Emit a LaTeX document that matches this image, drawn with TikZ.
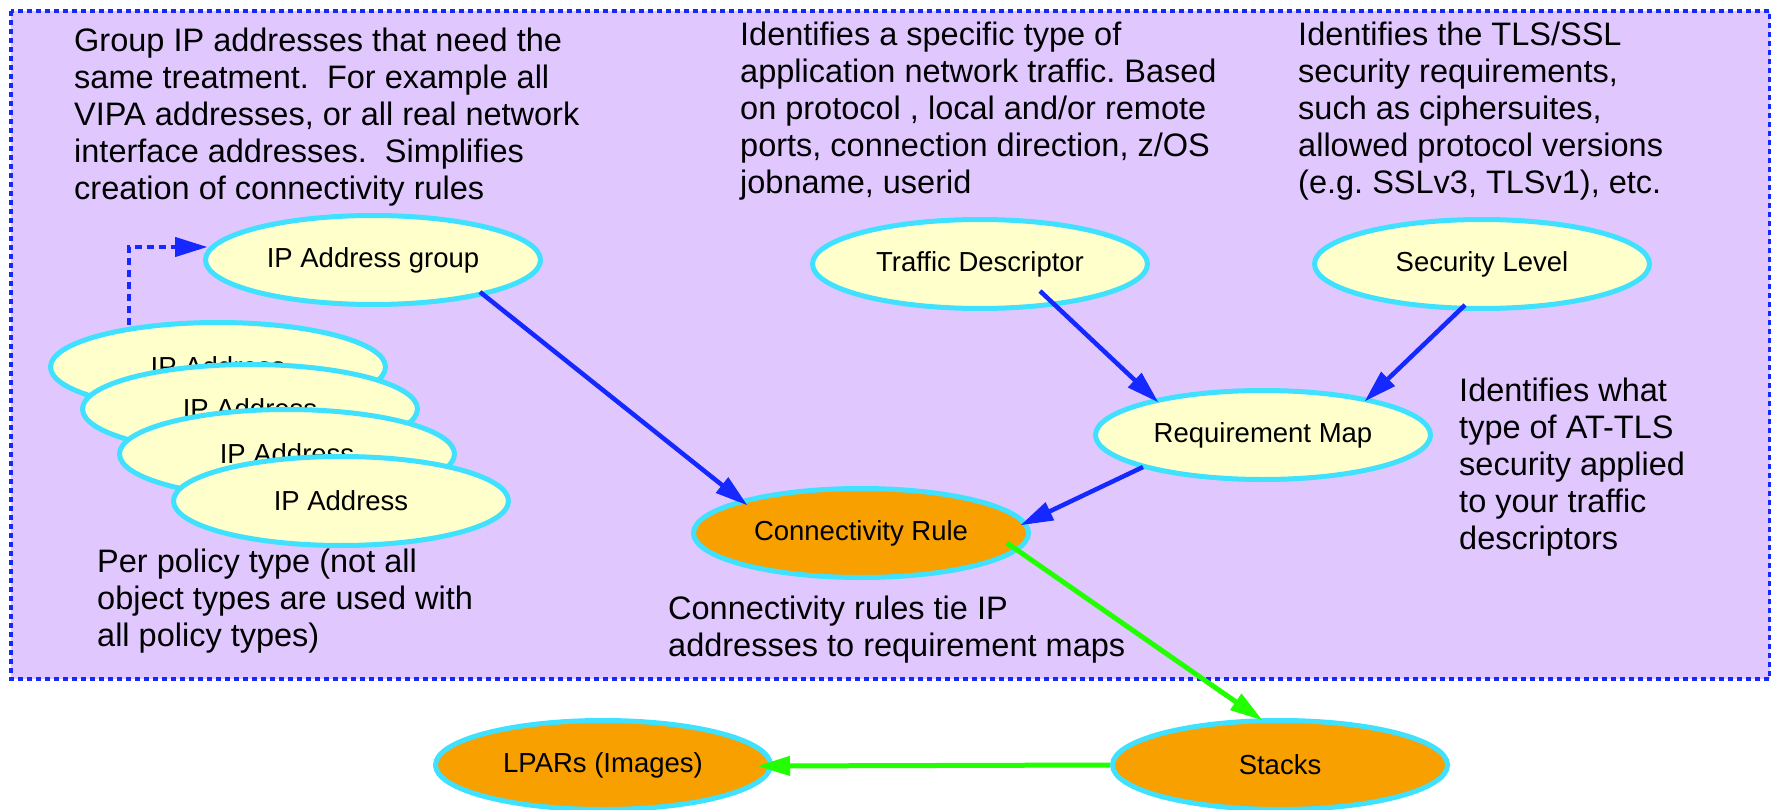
\documentclass[tikz,border=0pt]{standalone}
\usepackage{fontspec}
\setmainfont{Liberation Sans}
\usetikzlibrary{shapes.geometric,arrows.meta,calc}
\definecolor{lav}{RGB}{224,200,255}
\definecolor{pale}{RGB}{255,255,204}
\definecolor{cyanb}{RGB}{64,224,255}
\definecolor{orng}{RGB}{247,160,0}
\definecolor{blu}{RGB}{20,40,255}
\definecolor{grn}{RGB}{34,255,0}
\frenchspacing
\begin{document}
\begin{tikzpicture}[x=1pt,y=-1pt,
 obj/.style={ellipse, draw=cyanb, line width=5pt, fill=pale, minimum width=335pt, minimum height=89pt, inner sep=0pt, font=\fontsize{27.5}{32}\selectfont},
 inst/.style={obj, fill=orng},
 note/.style={anchor=north west, align=left, inner sep=0pt, font=\fontsize{32.5}{37}\selectfont},
 tipb/.style={-{Triangle[length=32pt,width=20pt,line width=1pt]}},
 barrow/.style={draw=blu, line width=4.5pt, tipb},
 garrow/.style={draw=grn, line width=5pt, tipb},
 framebox/.style={draw=blu, fill=lav, line width=4pt, dash pattern=on 5pt off 4pt},
]
\useasboundingbox (0,0) rectangle (1771,810);
\fill[white] (0,0) rectangle (1771,810);
\draw[framebox] (11,11) rectangle (1770,679);

\node[note] (t1) at (74,28) {Group IP addresses that need the\\same treatment.\ \ For example all\\VIPA addresses, or all real network\\interface addresses.\ \ Simplifies\\creation of connectivity rules};
\node[note] (t2) at (740,22) {Identifies a specific type of\\application network traffic. Based\\on protocol , local and/or remote\\ports, connection direction, z/OS\\jobname, userid};
\node[note] (t3) at (1298,22) {Identifies the TLS/SSL\\security requirements,\\such as ciphersuites,\\allowed protocol versions\\(e.g. SSLv3, TLSv1), etc.};
\node[note] (t4) at (1459,378) {Identifies what\\type of AT-TLS\\security applied\\to your traffic\\descriptors};
\node[note] (t5) at (97,549) {Per policy type (not all\\object types are used with\\all policy types)};
\node[note] (t6) at (668,596) {Connectivity rules tie IP\\addresses to requirement maps};

\node[obj] (ipg) at (373,260) {IP Address group};
\node[obj] (ip1) at (218,367) {IP Address};
\node[obj] (ip2) at (250,409) {IP Address};
\node[obj] (ip3) at (287,454) {IP Address};
\node[obj] (ip4) at (341,501) {IP Address};
\node[obj] (td) at (980,264) {Traffic Descriptor};
\node[obj] (sl) at (1482,264) {Security Level};
\node[obj] (rm) at (1263,435) {Requirement Map};
\node[inst] (cr) at (861,533) {Connectivity Rule};
\node[inst] (st) at (1280,765) {Stacks};
\node[inst] (lp) at (603,765) {LPARs (Images)};

\draw[barrow, dash pattern=on 7pt off 5pt] ($(ip1)+(-89,-42)$) |- ($(ipg)+(-166,-13)$);
\draw[barrow] ($(ipg)+(107,32)$) -- ($(cr)+(-114,-28)$);
\draw[barrow] ($(td)+(60,27)$) -- ($(rm)+(-105,-33)$);
\draw[barrow] ($(sl)+(-17,41)$) -- ($(rm)+(102,-34)$);
\draw[barrow] ($(rm)+(-120,32)$) -- ($(cr)+(160,-8)$);
\draw[garrow] ($(cr)+(146,10)$) -- ($(st)+(-18,-45)$);
\draw[garrow] (st.west) -- ($(lp)+(155,1)$);
\end{tikzpicture}
\end{document}
